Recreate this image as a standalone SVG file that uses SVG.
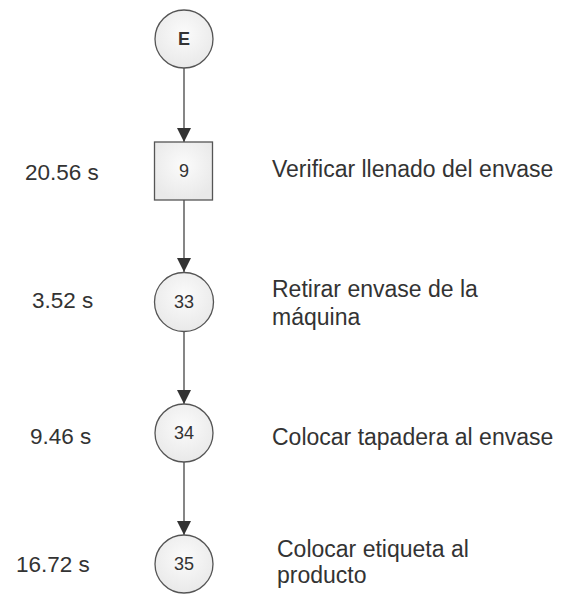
<svg xmlns="http://www.w3.org/2000/svg" width="566" height="595" viewBox="0 0 566 595">
<defs>
<radialGradient id="g" cx="50%" cy="40%" r="60%">
<stop offset="0" stop-color="#fbfbfb"/>
<stop offset="1" stop-color="#e9e9e9"/>
</radialGradient>
<marker id="ah" markerWidth="14" markerHeight="14" refX="14" refY="7" orient="auto" markerUnits="userSpaceOnUse">
<path d="M0,0 L14,7 L0,14 z" fill="#333"/>
</marker>
<style>
.n{fill:url(#g);stroke:#555;stroke-width:1.3}
.nt{font-family:"Liberation Sans",Arial,sans-serif;font-size:18px;fill:#333;text-anchor:middle}
.t{font-family:"Liberation Sans",Arial,sans-serif;font-size:23px;fill:#333}
.l{font-family:"Liberation Sans",Arial,sans-serif;font-size:22.5px;fill:#333}
.c{stroke:#444;stroke-width:1.3;fill:none;marker-end:url(#ah)}
</style>
</defs>
<rect width="566" height="595" fill="#fff"/>
<g id="connectors">
<line class="c" x1="184" y1="68" x2="184" y2="142"/>
<line class="c" x1="184" y1="200" x2="184" y2="272"/>
<line class="c" x1="184" y1="332" x2="184" y2="404"/>
<line class="c" x1="184" y1="462" x2="184" y2="535"/>
</g>
<g id="nodeE"><circle class="n" cx="184" cy="39" r="29"/><text class="nt" x="184" y="45" font-weight="bold">E</text></g>
<g id="node9"><rect class="n" x="154.5" y="142" width="58" height="58"/><text class="nt" x="184" y="177">9</text></g>
<g id="node33"><circle class="n" cx="184" cy="302" r="29.5"/><text class="nt" x="184" y="308">33</text></g>
<g id="node34"><circle class="n" cx="184" cy="433" r="29"/><text class="nt" x="184" y="439">34</text></g>
<g id="node35"><circle class="n" cx="184" cy="564" r="29"/><text class="nt" x="184" y="570">35</text></g>
<g id="labels">
<text class="l" x="25" y="180">20.56 s</text>
<text class="l" x="32" y="308">3.52 s</text>
<text class="l" x="30" y="444">9.46 s</text>
<text class="l" x="16" y="572">16.72 s</text>
<text class="t" x="272" y="177">Verificar llenado del envase</text>
<text class="t" x="272" y="297">Retirar envase de la</text>
<text class="t" x="272" y="325">máquina</text>
<text class="t" x="272" y="445">Colocar tapadera al envase</text>
<text class="t" x="277" y="557">Colocar etiqueta al</text>
<text class="t" x="277" y="583">producto</text>
</g>
</svg>
